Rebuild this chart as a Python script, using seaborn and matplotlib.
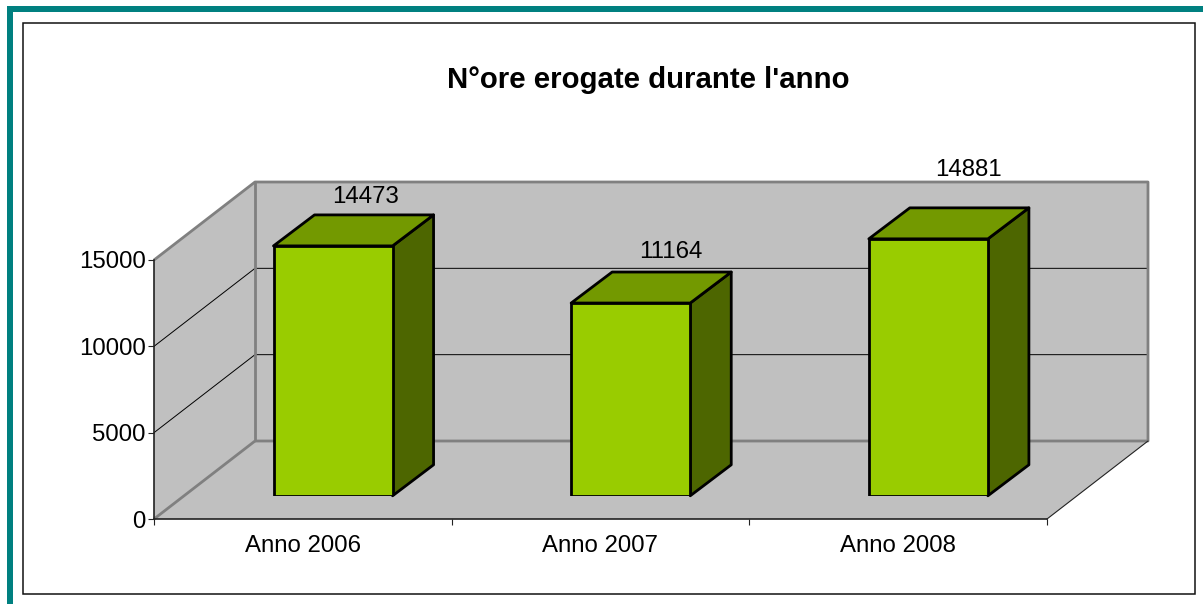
import matplotlib
matplotlib.use('Agg')
import matplotlib.pyplot as plt
from matplotlib.patches import Polygon, Rectangle
import pandas as pd
import seaborn as sns

years = ['Anno 2006', 'Anno 2007', 'Anno 2008']
hours = [14473, 11164, 14881]
y_ticks = [0, 5000, 10000, 15000]
title = "N°ore erogate durante l'anno"

W, H = 1203, 604
TEAL = '#008080'
WALL = '#C0C0C0'
WALL_EDGE = '#808080'
FRONT, TOP, SIDE = '#99CC00', '#739900', '#4D6600'

# pixel boxes
px_left, px_right, px_bottom, px_top = 154, 1047, 519, 260
bar_shift = (30.2, 23.2)
band = (px_right - px_left) / 3
wall_dx = 101 / band
wall_dy = 78 / (px_bottom - px_top) * 15000
bar_dx = 41 / band
bar_dy = 31 / (px_bottom - px_top) * 15000
label_offsets = [(32, 18), (40, 20), (40, 38)]

sns.set_theme(style='white')
plt.rcParams['font.family'] = ['Liberation Sans', 'DejaVu Sans']

df = pd.DataFrame({'anno': years, 'ore': hours})

fig = plt.figure(figsize=(W / 100, H / 100), dpi=100)

# page border and chart frame
fig.add_artist(Rectangle((7 / W, 0), 6 / W, 1 - 6 / H, transform=fig.transFigure, color=TEAL, lw=0, zorder=-2))
fig.add_artist(Rectangle((7 / W, 1 - 12 / H), 1, 6 / H, transform=fig.transFigure, color=TEAL, lw=0, zorder=-2))
fig.add_artist(Rectangle((23 / W, 1 - 594 / H), 1172 / W, 571 / H, transform=fig.transFigure,
                         fc='white', ec='#111111', lw=1.1, zorder=-1))


def box(left, right, bottom, top):
    return [left / W, 1 - bottom / H, (right - left) / W, (bottom - top) / H]


ax = fig.add_axes(box(px_left, px_right, px_bottom, px_top), facecolor='none')
ax.set_xlim(-0.5, 2.5)
ax.set_ylim(0, 15000)

x0, x1 = -0.5, 2.5
ymax = y_ticks[-1]
ax.add_patch(Polygon([(x0, 0), (x0 + wall_dx, wall_dy), (x0 + wall_dx, ymax + wall_dy), (x0, ymax)],
                     fc=WALL, ec='none', clip_on=False, zorder=0))
ax.add_patch(Polygon([(x0 + wall_dx, wall_dy), (x1 + wall_dx, wall_dy),
                      (x1 + wall_dx, ymax + wall_dy), (x0 + wall_dx, ymax + wall_dy)],
                     fc=WALL, ec='none', clip_on=False, zorder=0))
ax.add_patch(Polygon([(x0, 0), (x1, 0), (x1 + wall_dx, wall_dy), (x0 + wall_dx, wall_dy)],
                     fc=WALL, ec='none', clip_on=False, zorder=0))

for v in y_ticks[1:-1]:
    ax.plot([x0, x0 + wall_dx, x1 + wall_dx], [v, v + wall_dy, v + wall_dy],
            color='black', lw=0.7, clip_on=False, zorder=1)

edge = dict(color=WALL_EDGE, lw=2.0, clip_on=False, zorder=2, solid_capstyle='butt')
ax.plot([x0, x0 + wall_dx, x1 + wall_dx, x1 + wall_dx, x0 + wall_dx],
        [ymax, ymax + wall_dy, ymax + wall_dy, wall_dy, wall_dy], **edge)
ax.plot([x0 + wall_dx, x0 + wall_dx], [ymax + wall_dy, wall_dy], **edge)
ax.plot([x0, x0 + wall_dx], [0, wall_dy], **edge)
ax.plot([x1, x1 + wall_dx], [0, wall_dy], color='#222222', lw=0.8, clip_on=False, zorder=2)

sns.despine(ax=ax, top=True, right=True)
for s in ['left', 'bottom']:
    ax.spines[s].set_color('#222222')
    ax.spines[s].set_linewidth(1.2)
    ax.spines[s].set_zorder(3)
ax.set_yticks(y_ticks)
ax.set_xticks(range(len(years)), labels=years)
ax.set_xticks([x0, 0.5, 1.5, x1], minor=True)
ax.tick_params(axis='y', which='major', left=True, length=4, width=0.8, color='#222222',
               labelsize=17.3, pad=2, labelcolor='black')
ax.tick_params(axis='x', which='major', bottom=False, labelsize=17.3, pad=5.5, labelcolor='black')
ax.tick_params(axis='x', which='minor', bottom=True, length=4, width=0.8, color='#222222')

# bars sit on their own axes, pushed into the floor of the box
ax_bars = fig.add_axes(box(px_left + bar_shift[0], px_right + bar_shift[0],
                           px_bottom - bar_shift[1], px_top - bar_shift[1]), facecolor='none')
sns.barplot(data=df, x='anno', y='ore', color=FRONT, saturation=1, width=0.4,
            edgecolor='black', linewidth=2.0, ax=ax_bars, zorder=5)
ax_bars.set_xlim(-0.5, 2.5)
ax_bars.set_ylim(0, 15000)
ax_bars.set_axis_off()

for i, (v, off) in enumerate(zip(hours, label_offsets)):
    l, r = i - 0.2, i + 0.2
    ax_bars.add_patch(Polygon([(r, 0), (r + bar_dx, bar_dy), (r + bar_dx, v + bar_dy), (r, v)],
                              fc=SIDE, ec='black', lw=2.0, joinstyle='round', clip_on=False, zorder=4))
    ax_bars.add_patch(Polygon([(l, v), (r, v), (r + bar_dx, v + bar_dy), (l + bar_dx, v + bar_dy)],
                              fc=TOP, ec='black', lw=2.0, joinstyle='round', clip_on=False, zorder=4))
    ax_bars.annotate(str(v), (i, v + bar_dy), xytext=off, textcoords='offset pixels',
                     ha='center', va='center', fontsize=17.3, color='black', annotation_clip=False)

fig.text(648 / W, 1 - 80 / H, title, ha='center', va='center', fontsize=21.2, fontweight='bold', color='black')

fig.savefig('out.png', dpi=100)
